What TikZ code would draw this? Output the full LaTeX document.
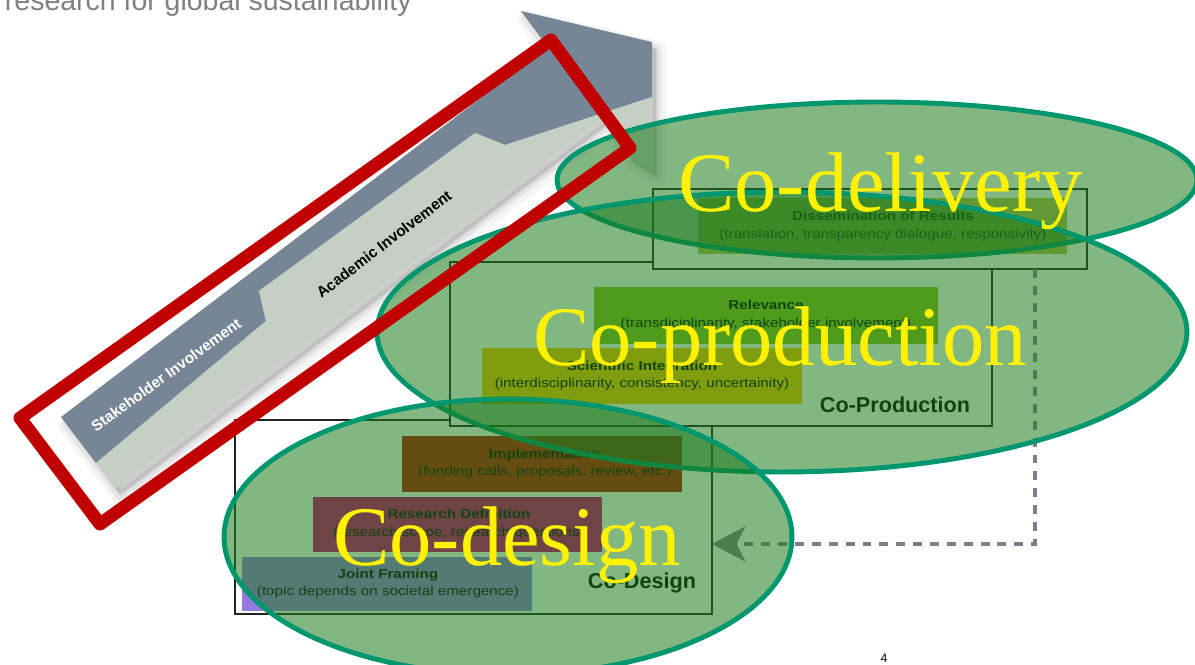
\documentclass[tikz,border=0pt]{standalone}
\usepackage{fontspec}
\setmainfont{Liberation Sans}
\newfontfamily\romanfont{Liberation Serif}
\usepackage{graphicx}
\usetikzlibrary{arrows.meta,fit}

\definecolor{headGray}{RGB}{128,128,128}
\definecolor{bandDark}{RGB}{119,134,151}
\definecolor{bandLight}{RGB}{197,207,196}
\definecolor{ovalFill}{RGB}{29,124,29}
\definecolor{ovalLine}{RGB}{0,150,110}
\definecolor{frameRed}{RGB}{192,0,0}
\definecolor{boxLine}{RGB}{35,35,35}
\definecolor{connGray}{RGB}{125,128,140}
\definecolor{dissFill}{RGB}{180,190,80}
\definecolor{relFill}{RGB}{140,195,30}
\definecolor{sciFill}{RGB}{250,195,0}
\definecolor{implFill}{RGB}{190,20,5}
\definecolor{resFill}{RGB}{210,0,120}
\definecolor{jointFill}{RGB}{150,120,225}

% slightly widened small print
\newcommand\wtext[1]{\scalebox{1.17}[1]{#1}}
% outline of the involvement arrow
\newcommand\bandoutline[1]{\path[#1] (61,417) -- (548,47) -- (521,11) -- (652,42)
  -- (652,170) -- (630,157) -- (602.5,118.7) -- (115.5,488.7) -- cycle;}

\begin{document}
\begin{tikzpicture}[x=0.02cm,y=-0.02cm,
  every node/.style={inner sep=0pt, outer sep=0pt},
  frame/.style={draw=boxLine, line width=0.9pt, fill=white},
  phase/.style={fill=#1, draw=none},
  boxtitle/.style={anchor=base, font=\fontsize{7.4pt}{9pt}\selectfont\bfseries},
  boxnote/.style={anchor=base, font=\fontsize{7.4pt}{9pt}\selectfont},
  stagelabel/.style={anchor=base, font=\fontsize{12.3pt}{14pt}\selectfont\bfseries},
  bandlabel/.style={font=\fontsize{8.7pt}{10pt}\selectfont\bfseries},
  oval/.style={fill=ovalFill, fill opacity=0.55, draw=ovalLine, line width=2.8pt},
  bigword/.style={anchor=base west, text=yellow, font=\romanfont\fontsize{48.2pt}{50pt}\selectfont},
  feedback/.style={draw=connGray, line width=2.3pt, dash pattern=on 5.1pt off 4.5pt,
    -{Stealth[length=19pt, width=20pt, inset=5pt]}},
  ]
\useasboundingbox (0,0) rectangle (1195,665);
\clip (0,0) rectangle (1195,665);
\fill[white] (0,0) rectangle (1195,665);

% heading, cut by the top edge
\node[anchor=base west, text=headGray, font=\fontsize{16.2pt}{18pt}\selectfont] (heading)
  at (5,11) {research for global sustainability};

% soft shadow of the arrow
\bandoutline{fill=black, fill opacity=0.04, draw=black, draw opacity=0.04, line width=10pt, line join=round, shift={(6,8)}}
\bandoutline{fill=black, fill opacity=0.06, draw=black, draw opacity=0.06, line width=5pt, line join=round, shift={(5,7)}}
\bandoutline{fill=black, fill opacity=0.08, shift={(4,6)}}

% involvement arrow: stakeholder part and academic part
\fill[bandDark] (61,417) -- (548,47) -- (521,11) -- (652,42) -- (652,97)
  -- (505,145) -- (475,133) -- (259,291) -- (266,321) -- (96,463) -- cycle;
\fill[bandLight] (96,463) -- (266,321) -- (259,291) -- (475,133) -- (505,145)
  -- (652,97) -- (652,170) -- (630,157) -- (602.5,118.7) -- (115.5,488.7) -- cycle;
\node[bandlabel, text=white, rotate=36] (stake) at (166,375) {Stakeholder Involvement};
\node[bandlabel, text=black, rotate=37.5] (acad) at (384,244) {Academic Involvement};

% Co-Design frame and its steps
\node[frame, fit={(235,420) (712,614)}] (codesign) {};
\node[phase=implFill, fit={(402,436) (682,492)}] (impl) {};
\node[phase=resFill, fit={(313,497) (602,552)}] (resdef) {};
\node[phase=jointFill, fit={(242,557) (532,611)}] (joint) {};
\node[boxtitle] (implT) at (545,458) {\wtext{Implementation}};
\node[boxnote] (implS) at (545,475.5) {\wtext{(funding calls, proposals, review, etc.)}};
\node[boxtitle] (resT) at (459,518.5) {\wtext{Research Definition}};
\node[boxnote] (resS) at (459,536) {\wtext{(research scope, research questions)}};
\node[boxtitle] (jointT) at (388,578) {\wtext{Joint Framing}};
\node[boxnote] (jointS) at (388,595.5) {\wtext{(topic depends on societal emergence)}};
\node[stagelabel] (codesignL) at (642,588) {Co-Design};

% Co-Production frame and its steps
\node[frame, fit={(450,262) (992,426)}] (coprod) {};
\node[phase=relFill, fit={(594,287) (938,344)}] (relev) {};
\node[phase=sciFill, fit={(482,348) (802,404)}] (sci) {};
\node[boxtitle] (relT) at (766,309.5) {\wtext{Relevance}};
\node[boxnote] (relS) at (766,327) {\wtext{(transdiciplinarity, stakeholder involvement)}};
\node[boxtitle] (sciT) at (642,370) {\wtext{Scientific Integration}};
\node[boxnote] (sciS) at (642,387.5) {\wtext{(interdisciplinarity, consistency, uncertainity)}};
\node[stagelabel] (coprodL) at (895,412) {Co-Production};

% Co-Delivery frame
\node[frame, fit={(653,189) (1087,269)}] (codeliv) {};
\node[phase=dissFill, fit={(698,198) (1067,254)}] (diss) {};
\node[boxtitle] (dissT) at (883,221) {\wtext{Dissemination of Results}};
\node[boxnote] (dissS) at (883,238.5) {\wtext{(translation, transparency dialogue, responsivity)}};

% feedback loop back to co-design
\coordinate (turn) at (1035,544);
\draw[feedback] (codeliv.south -| turn) -- (turn) -- (turn -| codesign.east);

% translucent phase ovals
\draw[oval] (877,180) ellipse [x radius=6.4cm, y radius=1.56cm];
\draw[oval] (782,332) ellipse [x radius=8.1cm, y radius=2.8cm];
\draw[oval] (508,537) ellipse [x radius=5.68cm, y radius=2.76cm];

% red highlight frame around the arrow
\draw[frameRed, line width=7.4pt, line join=round]
  (551,40) -- (630,148) -- (100,524) -- (20,418) -- cycle;

% phase names
\node[bigword] (delivW) at (678,212) {Co-delivery};
\node[bigword] (prodW) at (533,365) {Co-production};
\node[bigword] (designW) at (333,565) {Co-design};

% page number
\node[anchor=north, font=\fontsize{7pt}{8pt}\selectfont] (pagenum) at (884,654) {4};
\end{tikzpicture}
\end{document}
